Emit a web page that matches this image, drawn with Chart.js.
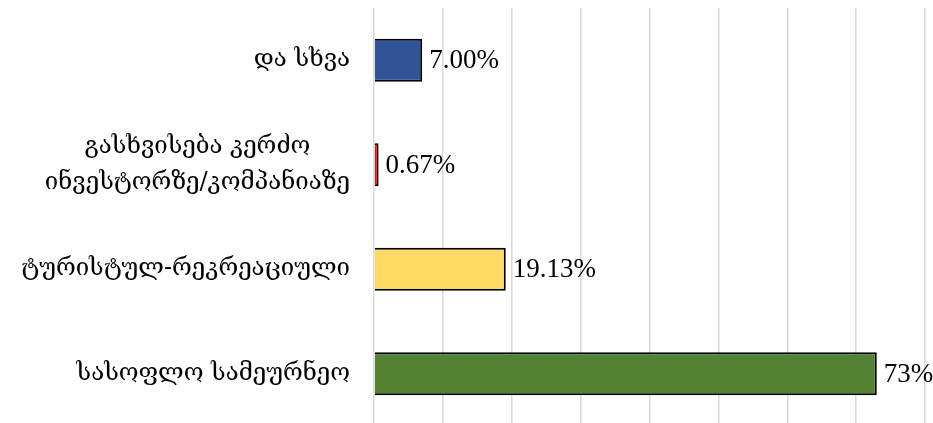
<!DOCTYPE html>
<html>
<head>
<meta charset="utf-8">
<script src="https://cdn.jsdelivr.net/npm/chart.js@4"></script>
<style>
  html, body { margin: 0; padding: 0; background: #fff; overflow: hidden; }
  #wrap { width: 933px; height: 426px; position: relative; }
</style>
</head>
<body>
<div id="wrap"><canvas id="chart"></canvas></div>
<script>
const categories = [
  ['და სხვა'],
  ['გასხვისება კერძო', 'ინვესტორზე/კომპანიაზე'],
  ['ტურისტულ-რეკრეაციული'],
  ['სასოფლო სამეურნეო']
];
const shares = [7.00, 0.67, 19.13, 73];
const shareLabels = ['7.00%', '0.67%', '19.13%', '73%'];
const barColors = ['#2F5597', '#FF0000', '#FFD966', '#548235'];

const labelFont = '24px "DejaVu Serif", serif';
const valueFont = '27px "Liberation Serif", "Times New Roman", serif';

// category names: each block right-aligned to the axis, lines centred within it
const categoryText = {
  id: 'categoryText',
  afterDraw(chart) {
    const ctx = chart.ctx;
    const y = chart.scales.y;
    const right = chart.chartArea.left - 24;
    const lineH = 36;
    ctx.save();
    ctx.font = labelFont;
    ctx.fillStyle = '#000';
    ctx.textBaseline = 'middle';
    ctx.textAlign = 'center';
    categories.forEach((lines, i) => {
      const cy = y.getPixelForValue(i);
      const w = Math.max(...lines.map(l => ctx.measureText(l).width));
      const cx = right - w / 2;
      const y0 = cy - (lines.length - 1) * lineH / 2;
      lines.forEach((l, k) => ctx.fillText(l, cx, y0 + k * lineH));
    });
    ctx.restore();
  }
};

// value labels at the end of each bar
const valueText = {
  id: 'valueText',
  afterDatasetsDraw(chart) {
    const ctx = chart.ctx;
    const meta = chart.getDatasetMeta(0);
    ctx.save();
    ctx.font = valueFont;
    ctx.fillStyle = '#000';
    ctx.textBaseline = 'middle';
    ctx.textAlign = 'left';
    meta.data.forEach((bar, i) => {
      ctx.fillText(shareLabels[i], bar.x + 7, bar.y + 1);
    });
    ctx.restore();
  }
};

new Chart(document.getElementById('chart'), {
  type: 'bar',
  data: {
    labels: categories.map(c => c.join(' ')),
    datasets: [{
      data: shares,
      backgroundColor: barColors,
      borderColor: '#000',
      borderWidth: 2,
      barPercentage: 0.41,
      categoryPercentage: 1
    }]
  },
  options: {
    indexAxis: 'y',
    responsive: true,
    maintainAspectRatio: false,
    animation: false,
    layout: { padding: { top: 8, right: 8, bottom: 0, left: 0 } },
    plugins: {
      legend: { display: false },
      tooltip: { enabled: false }
    },
    scales: {
      x: {
        min: 0,
        max: 80,
        ticks: { display: false, stepSize: 10 },
        grid: { color: '#d9d9d9', lineWidth: 1.5, drawTicks: false },
        border: { display: false },
        afterFit(scale) { scale.height = 0; }
      },
      y: {
        ticks: { display: false },
        grid: { display: false, drawTicks: false },
        border: { display: false },
        afterFit(scale) { scale.width = 374; }
      }
    }
  },
  plugins: [categoryText, valueText]
});
</script>
</body>
</html>
